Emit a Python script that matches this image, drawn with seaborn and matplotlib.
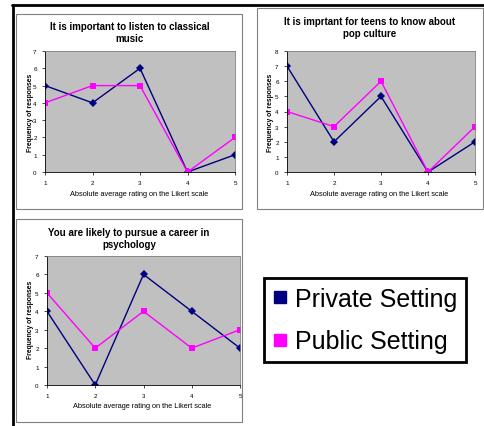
import matplotlib
matplotlib.use('Agg')
import matplotlib.pyplot as plt
import seaborn as sns
import pandas as pd
from matplotlib.lines import Line2D
from matplotlib.patches import Rectangle

sns.set_theme(style='white')
plt.rcParams['font.family'] = ['Liberation Sans', 'DejaVu Sans']
plt.rcParams['text.color'] = 'black'

# data
ratings = [1, 2, 3, 4, 5]
titles = ['It is important to listen to classical\nmusic',
          'It is imprtant for teens to know about\npop culture',
          'You are likely to pursue a career in\npsychology']
private_vals = [[5, 4, 6, 0, 1],
                [7, 2, 5, 0, 2],
                [4, 0, 6, 4, 2]]
public_vals = [[4, 5, 5, 0, 2],
               [4, 3, 6, 0, 3],
               [5, 2, 4, 2, 3]]
y_max = [7, 8, 7]
series_names = ['Private Setting', 'Public Setting']
xlabel = 'Absolute average rating on the Likert scale'
ylabel = 'Frequency of responses'

navy = '#000080'
magenta = '#FF00FF'

W, H = 484, 427
fig = plt.figure(figsize=(W / 100, H / 100), dpi=100)
fig.patch.set_facecolor('white')


def box(x0, y0, x1, y1):
    # pixel box (top-left origin) -> figure fraction rect
    return [x0 / W, 1 - y1 / H, (x1 - x0) / W, (y1 - y0) / H]


# panel frames (outer chart areas)
frames = [(16, 15, 242, 210), (257, 9, 483, 210), (16, 220, 242, 423)]
plot_areas = [(45, 52, 235, 173), (287, 52, 475, 173), (47, 257, 240, 386)]
title_pos = [(130, 33), (370, 28), (129, 239)]
ylab_pos = [(30, 113), (270, 113), (30, 320)]
xlab_pos = [(139, 195), (379, 195), (142, 407)]

for (x0, y0, x1, y1) in frames:
    fig.patches.append(Rectangle((x0 / W, 1 - y1 / H), (x1 - x0) / W, (y1 - y0) / H,
                                 transform=fig.transFigure, fill=False,
                                 edgecolor='#808080', linewidth=0.8))

# outer black frame lines
fig.lines.append(Line2D([12 / W, 1], [1 - 5.5 / H, 1 - 5.5 / H], transform=fig.transFigure,
                        color='black', linewidth=2))
fig.lines.append(Line2D([12.5 / W, 12.5 / W], [0, 1 - 5.5 / H], transform=fig.transFigure,
                        color='black', linewidth=2))

for i in range(3):
    ax = fig.add_axes(box(*plot_areas[i]))
    ax.set_facecolor('#C0C0C0')
    df = pd.DataFrame({'rating': ratings * 2,
                       'freq': private_vals[i] + public_vals[i],
                       'setting': [series_names[0]] * 5 + [series_names[1]] * 5})
    sns.lineplot(data=df, x='rating', y='freq', hue='setting', style='setting',
                 palette=[navy, magenta], markers=['D', 's'], dashes=False,
                 markersize=4.5, linewidth=1, markeredgewidth=0, ax=ax, legend=False)
    ax.set_xlim(1, 5)
    ax.set_ylim(0, y_max[i])
    ax.set_xticks(ratings)
    ax.set_yticks(range(0, y_max[i] + 1))
    ax.tick_params(axis='both', labelsize=4.5, length=2, width=0.5, pad=4,
                   bottom=True, left=True, colors='black')
    ax.set_xlabel('')
    ax.set_ylabel('')
    for s in ['top', 'right']:
        ax.spines[s].set_color('#808080')
        ax.spines[s].set_linewidth(0.6)
    for s in ['left', 'bottom']:
        ax.spines[s].set_color('black')
        ax.spines[s].set_linewidth(0.6)

    tx, ty = title_pos[i]
    fig.text(tx / W, 1 - ty / H, titles[i], ha='center', va='center',
             fontsize=7, fontweight='bold', linespacing=1.35, color='black')
    lx, ly = ylab_pos[i]
    fig.text(lx / W, 1 - ly / H, ylabel, ha='center', va='center', rotation=90,
             fontsize=4.9, fontweight='bold', color='black')
    bx, by = xlab_pos[i]
    fig.text(bx / W, 1 - by / H, xlabel, ha='center', va='center',
             fontsize=5.3, color='black')

handles = [Line2D([], [], marker='s', linestyle='none', color=navy, markersize=9),
           Line2D([], [], marker='s', linestyle='none', color=magenta, markersize=9)]
leg = fig.legend(handles, series_names, loc='upper left',
                 bbox_to_anchor=(264 / W, 1 - 279 / H), fontsize=18,
                 frameon=True, fancybox=False, framealpha=1, handlelength=0.6,
                 handletextpad=0.3, labelspacing=0.75, borderpad=0.35,
                 borderaxespad=0, labelcolor='black')
leg.get_frame().set_edgecolor('black')
leg.get_frame().set_linewidth(2)

fig.savefig('out.png', dpi=100)
